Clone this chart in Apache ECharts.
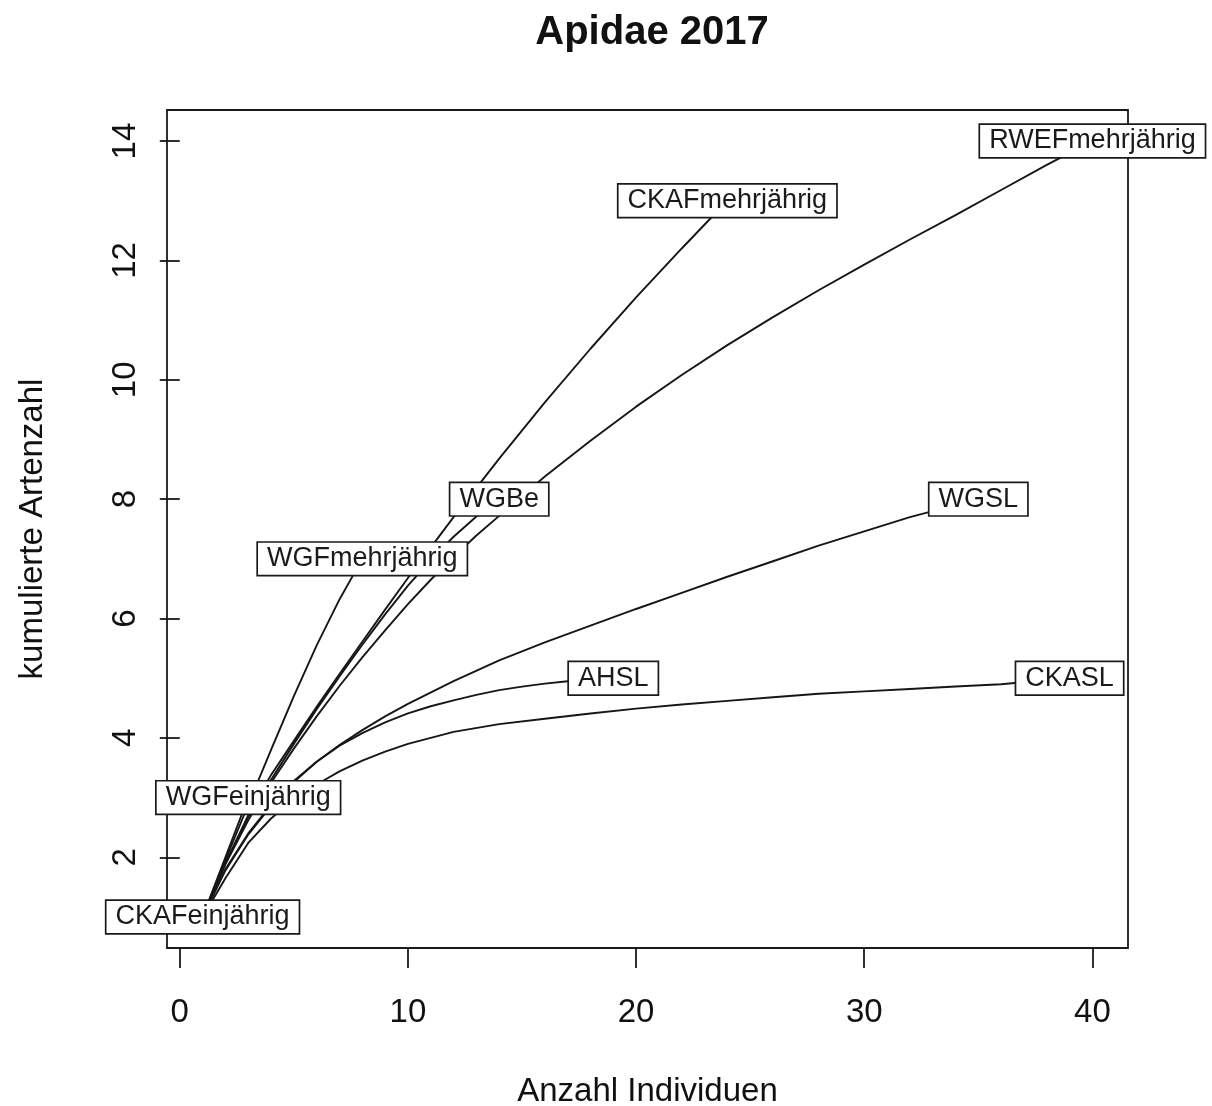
<!DOCTYPE html>
<html>
<head>
<meta charset="utf-8">
<title>Apidae 2017</title>
<script src="https://cdn.jsdelivr.net/npm/echarts@6/dist/echarts.min.js"></script>
<style>
  html, body { margin: 0; padding: 0; background: #ffffff; }
  #chart { width: 1212px; height: 1106px; }
</style>
</head>
<body>
<div id="chart"></div>
<script>
// Rarefaction curves: [number of individuals, cumulative species]
const CKAFeinjaehrig = [[1, 1]];
const WGFeinjaehrig = [[1, 1], [2, 2], [3, 3]];
const WGFmehrjaehrig = [[1, 1], [2, 1.95], [3, 2.88], [4, 3.8], [5, 4.7], [6, 5.55], [7, 6.32], [8, 7]];
const WGBe = [[1, 1], [2, 1.9], [3, 2.68], [4, 3.3], [5, 3.9], [6, 4.48], [7, 5.03], [8, 5.56], [9, 6.07],
  [10, 6.55], [11, 6.98], [12, 7.37], [13, 7.71], [14, 8]];
const CKAFmehrjaehrig = [[1, 1], [2, 1.9], [3, 2.7], [4, 3.38], [5, 3.95], [6, 4.52], [7, 5.07], [8, 5.61],
  [9, 6.15], [10, 6.68], [12, 7.7], [14, 8.68], [16, 9.62], [18, 10.52], [20, 11.38], [22, 12.2], [24, 13]];
const RWEFmehrjaehrig = [[1, 1], [2, 1.88], [3, 2.62], [4, 3.25], [5, 3.82], [6, 4.36], [7, 4.87], [8, 5.35],
  [9, 5.8], [10, 6.24], [11, 6.65], [12, 7.03], [13, 7.39], [14, 7.72], [16, 8.38], [18, 8.98], [20, 9.55],
  [22, 10.08], [24, 10.58], [26, 11.05], [28, 11.5], [30, 11.93], [32, 12.35], [34, 12.76], [36, 13.18],
  [38, 13.6], [40, 14]];
const WGSL = [[1, 1], [2, 1.8], [3, 2.4], [4, 2.88], [5, 3.28], [6, 3.6], [7, 3.88], [8, 4.13], [9, 4.36],
  [10, 4.57], [12, 4.95], [14, 5.3], [16, 5.6], [18, 5.88], [20, 6.16], [22, 6.43], [24, 6.7], [26, 6.96],
  [28, 7.22], [30, 7.46], [32, 7.7], [34, 7.9], [35, 8]];
const AHSL = [[1, 1], [2, 1.78], [3, 2.38], [4, 2.86], [5, 3.26], [6, 3.6], [7, 3.87], [8, 4.08], [9, 4.26],
  [10, 4.41], [11, 4.53], [12, 4.63], [13, 4.72], [14, 4.8], [15, 4.86], [16, 4.91], [17, 4.95], [18, 4.98], [19, 5]];
const CKASL = [[1, 1], [2, 1.65], [3, 2.24], [4, 2.65], [5, 2.97], [6, 3.22], [7, 3.44], [8, 3.62], [9, 3.77],
  [10, 3.9], [12, 4.1], [14, 4.23], [16, 4.32], [18, 4.41], [20, 4.49], [22, 4.56], [24, 4.62], [26, 4.68],
  [28, 4.74], [30, 4.78], [32, 4.82], [34, 4.86], [36, 4.9], [38, 4.97], [39, 5]];

const curveNames = ['CKAFeinjährig', 'WGFeinjährig', 'WGFmehrjährig', 'WGBe', 'CKAFmehrjährig',
  'RWEFmehrjährig', 'WGSL', 'AHSL', 'CKASL'];
const curves = [CKAFeinjaehrig, WGFeinjaehrig, WGFmehrjaehrig, WGBe, CKAFmehrjaehrig,
  RWEFmehrjaehrig, WGSL, AHSL, CKASL];

const xTicks = [0, 10, 20, 30, 40];
const yTicks = [2, 4, 6, 8, 10, 12, 14];

const FONT = '"Liberation Sans", Arial, Helvetica, sans-serif';
const INK = '#111111';

const lineSeries = curves.map((pts, i) => ({
  name: curveNames[i],
  type: 'line',
  data: pts,
  showSymbol: false,
  symbol: 'none',
  smooth: false,
  z: 2,
  lineStyle: { color: '#161616', width: 1.9 },
  emphasis: { disabled: true },
  silent: true
}));

// Boxed name at the end point of each curve
const endLabels = {
  type: 'scatter',
  z: 10,
  symbolSize: 1,
  itemStyle: { color: 'rgba(255,255,255,0)', opacity: 1 },
  silent: true,
  data: curves.map((pts, i) => ({ name: curveNames[i], value: pts[pts.length - 1] })),
  label: {
    show: true,
    position: 'inside',
    formatter: '{b}',
    fontFamily: FONT,
    fontSize: 27,
    color: '#1a1a1a',
    opacity: 1,
    backgroundColor: '#ffffff',
    borderColor: '#1a1a1a',
    borderWidth: 1.7,
    padding: [3, 9, 2, 9]
  },
  labelLayout: { hideOverlap: false }
};

const chart = echarts.init(document.getElementById('chart'), null, { renderer: 'canvas' });
chart.setOption({
  backgroundColor: '#ffffff',
  animation: false,
  title: {
    text: 'Apidae 2017',
    left: 647,
    textAlign: 'center',
    top: 8,
    textStyle: { fontFamily: FONT, fontSize: 40, fontWeight: 'bold', color: INK }
  },
  grid: {
    left: 167, top: 110, right: 84, bottom: 158,
    containLabel: false,
    outerBoundsMode: 'none',
    show: true, borderColor: '#1a1a1a', borderWidth: 1.8, backgroundColor: 'transparent'
  },
  xAxis: {
    type: 'value',
    min: -0.56,
    max: 41.56,
    name: 'Anzahl Individuen',
    nameLocation: 'middle',
    nameGap: 127,
    nameTextStyle: { fontFamily: FONT, fontSize: 33, color: INK },
    axisLine: { show: false },
    splitLine: { show: false },
    axisTick: { show: true, inside: false, length: 20, customValues: xTicks, lineStyle: { color: '#1a1a1a', width: 1.8 } },
    axisLabel: { customValues: xTicks, margin: 48, fontFamily: FONT, fontSize: 33, color: INK }
  },
  yAxis: {
    type: 'value',
    min: 0.48,
    max: 14.52,
    name: 'kumulierte Artenzahl',
    nameLocation: 'middle',
    nameRotate: 90,
    nameGap: 118,
    nameTextStyle: { fontFamily: FONT, fontSize: 33, color: INK },
    axisLine: { show: false },
    splitLine: { show: false },
    axisTick: { show: true, inside: false, length: 20, customValues: yTicks, lineStyle: { color: '#1a1a1a', width: 1.8 } },
    axisLabel: { customValues: yTicks, rotate: 90, margin: 25, fontFamily: FONT, fontSize: 33, color: INK }
  },
  series: lineSeries.concat([endLabels])
});
</script>
</body>
</html>
